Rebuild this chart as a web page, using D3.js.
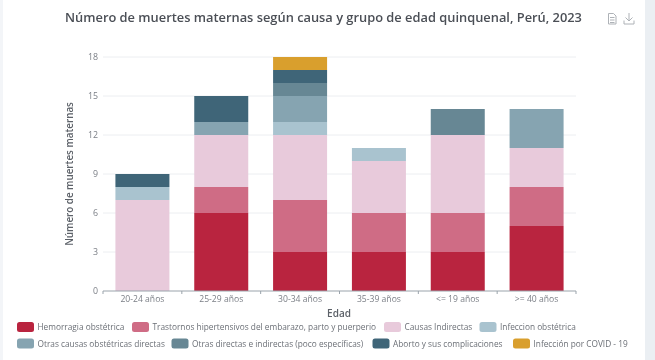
<!DOCTYPE html>
<html><head><meta charset="utf-8">
<script src="https://cdn.jsdelivr.net/npm/d3@7"></script>
<style>
html,body{margin:0;padding:0;background:#fff}
svg{display:block;filter:blur(0.35px)}
text{font-family:"Open Sans",sans-serif}
</style></head><body>
<svg id="c" width="655" height="360"></svg>
<script>
const categories=["20-24 años","25-29 años","30-34 años","35-39 años","<= 19 años",">= 40 años"];
const seriesNames=["Hemorragia obstétrica","Trastornos hipertensivos del embarazo, parto y puerperio","Causas Indirectas","Infeccion obstétrica","Otras causas obstétricas directas","Otras directas e indirectas (poco específicas)","Aborto y sus complicaciones","Infección por COVID - 19"];
const colors=["#b9243f","#cf6c85","#e8cadb","#a9c3cf","#86a4b1","#678794","#3f6578","#d99f2d"];
const hemorragia=[0,6,3,3,3,5];
const trastornos=[0,2,4,3,3,3];
const indirectas=[7,4,5,4,6,3];
const infeccion=[1,0,1,1,0,0];
const otrasCausas=[0,1,2,0,0,3];
const otrasDirectas=[0,0,1,0,2,0];
const aborto=[1,2,1,0,0,0];
const covid=[0,0,1,0,0,0];
const seriesValues=[hemorragia,trastornos,indirectas,infeccion,otrasCausas,otrasDirectas,aborto,covid];
const yTicks=[0,3,6,9,12,15,18];
const title="Número de muertes maternas según causa y grupo de edad quinquenal, Perú, 2023";

const svg=d3.select("#c");
svg.append("rect").attr("x",-2).attr("width",5).attr("height",360).attr("fill","#f3f5f8");
svg.append("rect").attr("x",645).attr("width",12).attr("height",360).attr("fill","#ebeff3");
const x=d3.scaleBand().domain(categories).range([103,576]).paddingInner(0.315).paddingOuter(0.1575);
const xTick=d3.scaleBand().domain(categories).range([103,576]);
const y=d3.scaleLinear().domain([0,18]).range([291,57]);

svg.append("g").selectAll("line").data(yTicks.slice(1)).join("line")
 .attr("x1",103).attr("x2",576).attr("y1",d=>y(d)).attr("y2",d=>y(d))
 .attr("stroke","#eceef1").attr("stroke-width",1);

const rows=categories.map((c,i)=>{const o={cat:c};seriesNames.forEach((s,j)=>o[s]=seriesValues[j][i]);return o;});
const stack=d3.stack().keys(seriesNames)(rows);
svg.append("g").selectAll("g").data(stack).join("g").attr("fill",(d,i)=>colors[i])
 .selectAll("rect").data(d=>d.filter(p=>p[1]>p[0])).join("rect")
 .attr("x",d=>x(d.data.cat)).attr("width",x.bandwidth())
 .attr("y",d=>y(d[1])).attr("height",d=>y(d[0])-y(d[1]));

const yAxis=d3.axisLeft(y).tickValues(yTicks).tickSize(0).tickPadding(5);
const gy=svg.append("g").attr("transform","translate(103,0)").call(yAxis);
gy.select(".domain").remove();
gy.selectAll("text").attr("fill","#7b7f86").attr("font-size",8.8);

const xAxis=d3.axisBottom(xTick).tickSize(3).tickPadding(2);
const gx=svg.append("g").attr("transform","translate(0,291)").call(xAxis);
gx.selectAll(".tick line").remove();
gx.select(".domain").attr("stroke","#9aa3ab").attr("d","M103,0H576");
gx.selectAll("text").attr("fill","#7b7f86").attr("font-size",8.6);
gx.append("g").selectAll("line").data(d3.range(categories.length+1)).join("line")
 .attr("x1",d=>103+d*xTick.step()).attr("x2",d=>103+d*xTick.step()).attr("y1",0).attr("y2",3)
 .attr("stroke","#9aa3ab");

svg.append("text").attr("x",323.5).attr("y",22).attr("text-anchor","middle").attr("font-size",12.85).attr("font-weight",600).attr("fill","#4b4f56").text(title);
svg.append("text").attr("transform","translate(73,174) rotate(-90)").attr("text-anchor","middle").attr("font-size",9.8).attr("font-weight",600).attr("fill","#5c6168").text("Número de muertes maternas");
svg.append("text").attr("x",339).attr("y",317).attr("text-anchor","middle").attr("font-size",10).attr("font-weight",600).attr("fill","#5c6168").text("Edad");

const legendPos=[[17,327],[132,327],[384,327],[479.5,327],[17,343.5],[171.5,343.5],[372.5,343.5],[513,343.5]];
const lg=svg.append("g").selectAll("g").data(seriesNames).join("g").attr("transform",(d,i)=>`translate(${legendPos[i][0]},${legendPos[i][1]})`);
lg.append("rect").attr("y",-5).attr("width",17).attr("height",10).attr("rx",2.5).attr("fill",(d,i)=>colors[i]);
lg.append("text").attr("x",20.5).attr("y",3).attr("font-size",8.3).attr("fill","#6b6f76").text(d=>d);

const ic=svg.append("g").attr("fill","none").attr("stroke","#aeb2b7").attr("stroke-width",1);
ic.append("path").attr("d","M608.5,13.5h5l2.5,2.5v8h-7.5zM610,17.5h4.5M610,20h4.5M610,22.5h4.5");
ic.append("path").attr("d","M629,13v7.5M625.5,17.5l3.5,3.5l3.5,-3.5M624,20.5v3.5h10v-3.5");
</script>
</body></html>
